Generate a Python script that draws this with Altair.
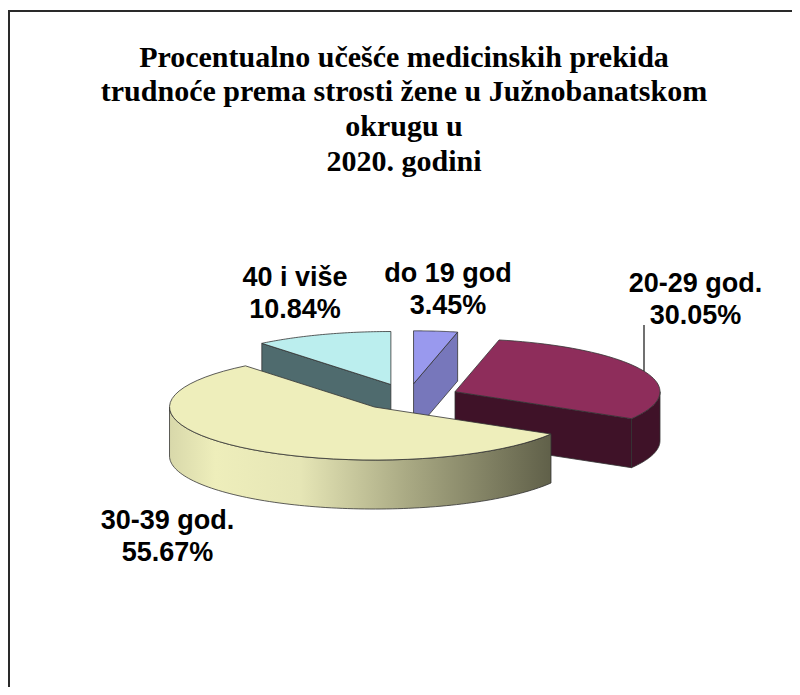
import math
import altair as alt
import pandas as pd

# ---- chart values -------------------------------------------------
categories = ["do 19 god", "20-29 god.", "30-39 god.", "40 i više"]
shares = [3.45, 30.05, 55.67, 10.84]

title_lines = [
    "Procentualno učešće medicinskih prekida",
    "trudnoće prema strosti žene u Južnobanatskom",
    "okrugu u",
    "2020. godini",
]

# ---- pie projection settings ---------------------------------------
CX, CY = 408.0, 397.0   # pie centre in page pixels
RX, RY = 205.0, 53.0    # ellipse radii
DEPTH = 49.0            # extruded thickness
EXPLODE = 0.25

W, H = 784, 679
X_SCALE = alt.Scale(domain=[8, 8 + W], range=[0, W])
Y_SCALE = alt.Scale(domain=[8, 8 + H], range=[0, H])

# slice angle ranges (clockwise from 12 o'clock), derived from the shares
total = sum(shares)
starts, acc = [], 0.0
for s in shares:
    starts.append(acc / total * 2 * math.pi)
    acc += s
ends = starts[1:] + [2 * math.pi]


def apex(i):
    mid = (starts[i] + ends[i]) / 2
    return (CX + EXPLODE * RX * math.sin(mid), CY - EXPLODE * RY * math.cos(mid))


def rim(i, t, z=0.0):
    ax, ay = apex(i)
    return (ax + RX * math.sin(t), ay - RY * math.cos(t) + z)


def arc(i, a, b, z=0.0, n=48):
    return [rim(i, a + (b - a) * k / n, z) for k in range(n + 1)]


def poly(points, fill, stroke="#333333", sw=0.8):
    pts = list(points) + [points[0]]
    df = pd.DataFrame({"x": [p[0] for p in pts], "y": [p[1] for p in pts], "i": range(len(pts))})
    return (
        alt.Chart(df)
        .mark_line(fill=fill, stroke=stroke, strokeWidth=sw, strokeJoin="round", clip=False)
        .encode(
            x=alt.X("x:Q", scale=X_SCALE, axis=None),
            y=alt.Y("y:Q", scale=Y_SCALE, axis=None),
            order=alt.Order("i:Q"),
        )
    )


def top(i):
    return [apex(i)] + arc(i, starts[i], ends[i])


layers = []

# frame: only the left and top edges of the original box are in view
frame = pd.DataFrame({"x": [9.0, 9.0, 792.0], "y": [687.0, 11.0, 11.0], "i": range(3)})
layers.append(
    alt.Chart(frame)
    .mark_line(stroke="#2a2a2a", strokeWidth=2)
    .encode(
        x=alt.X("x:Q", scale=X_SCALE, axis=None),
        y=alt.Y("y:Q", scale=Y_SCALE, axis=None),
        order=alt.Order("i:Q"),
    )
)

# do 19 god: far radial face, then top
a0 = apex(0)
e0 = rim(0, ends[0])
layers.append(poly([a0, e0, (e0[0], e0[1] + DEPTH), (a0[0], a0[1] + DEPTH)], "#7777bb"))
layers.append(poly(top(0), "#9999ee"))

# 40 i više: radial face, then top
a3 = apex(3)
s3 = rim(3, starts[3])
layers.append(poly([s3, a3, (a3[0], a3[1] + DEPTH), (s3[0], s3[1] + DEPTH)], "#4f6b6e"))
layers.append(poly(top(3), "#bbeeee"))

# 20-29 god.: radial face, rim, then top
a1 = apex(1)
e1 = rim(1, ends[1])
layers.append(poly([a1, e1, (e1[0], e1[1] + DEPTH), (a1[0], a1[1] + DEPTH)], "#3f1228"))
rim1_top = arc(1, math.pi / 2, ends[1])
rim1_bot = arc(1, math.pi / 2, ends[1], DEPTH)
layers.append(poly(rim1_top + rim1_bot[::-1], "#3f1228"))
layers.append(poly(top(1), "#8e2d5b"))

# 30-39 god.: rim with gradient, then top
rim2_top = arc(2, starts[2], 3 * math.pi / 2, n=96)
rim2_bot = arc(2, starts[2], 3 * math.pi / 2, DEPTH, n=96)
cream_grad = alt.Gradient(
    gradient="linear",
    x1=0, x2=1, y1=0, y2=0,
    stops=[
        alt.GradientStop(offset=0.0, color="#d8d8aa"),
        alt.GradientStop(offset=0.12, color="#eeeebb"),
        alt.GradientStop(offset=0.34, color="#e6e6b6"),
        alt.GradientStop(offset=0.62, color="#aaaa84"),
        alt.GradientStop(offset=1.0, color="#606049"),
    ],
)
layers.append(poly(rim2_top + rim2_bot[::-1], cream_grad))
layers.append(poly(top(2), "#eeeebb"))

# leader line of the 20-29 label
leader = pd.DataFrame({"x": [644.0, 644.0], "y": [325.0, 371.0], "i": [0, 1]})
layers.append(
    alt.Chart(leader)
    .mark_line(stroke="#111111", strokeWidth=1.2)
    .encode(
        x=alt.X("x:Q", scale=X_SCALE, axis=None),
        y=alt.Y("y:Q", scale=Y_SCALE, axis=None),
        order=alt.Order("i:Q"),
    )
)

# slice labels
label_pos = {"do 19 god": (448, 282), "20-29 god.": (695.5, 292), "30-39 god.": (167.5, 529), "40 i više": (295, 286)}
rows = []
for c, s in zip(categories, shares):
    x, y = label_pos[c]
    rows.append({"x": x, "y": y, "t": c})
    rows.append({"x": x, "y": y + 32, "t": f"{s:.2f}%"})
layers.append(
    alt.Chart(pd.DataFrame(rows))
    .mark_text(font="Liberation Sans", fontWeight="bold", fontSize=27, align="center", baseline="alphabetic", color="#000000")
    .encode(
        x=alt.X("x:Q", scale=X_SCALE, axis=None),
        y=alt.Y("y:Q", scale=Y_SCALE, axis=None),
        text="t:N",
    )
)

# title
title_y = [67, 101, 136, 171]
tdf = pd.DataFrame({"x": [404] * 4, "y": title_y, "t": title_lines})
layers.append(
    alt.Chart(tdf)
    .mark_text(font="Liberation Serif", fontWeight="bold", fontSize=30, align="center", baseline="alphabetic", color="#000000")
    .encode(
        x=alt.X("x:Q", scale=X_SCALE, axis=None),
        y=alt.Y("y:Q", scale=Y_SCALE, axis=None),
        text="t:N",
    )
)

chart = (
    alt.layer(*layers)
    .properties(width=W, height=H, padding=0, background="white", autosize=alt.AutoSizeParams(type="none"))
    .configure_view(stroke=None)
)
chart.save("out.html", embed_options={"renderer": "svg", "actions": False})
